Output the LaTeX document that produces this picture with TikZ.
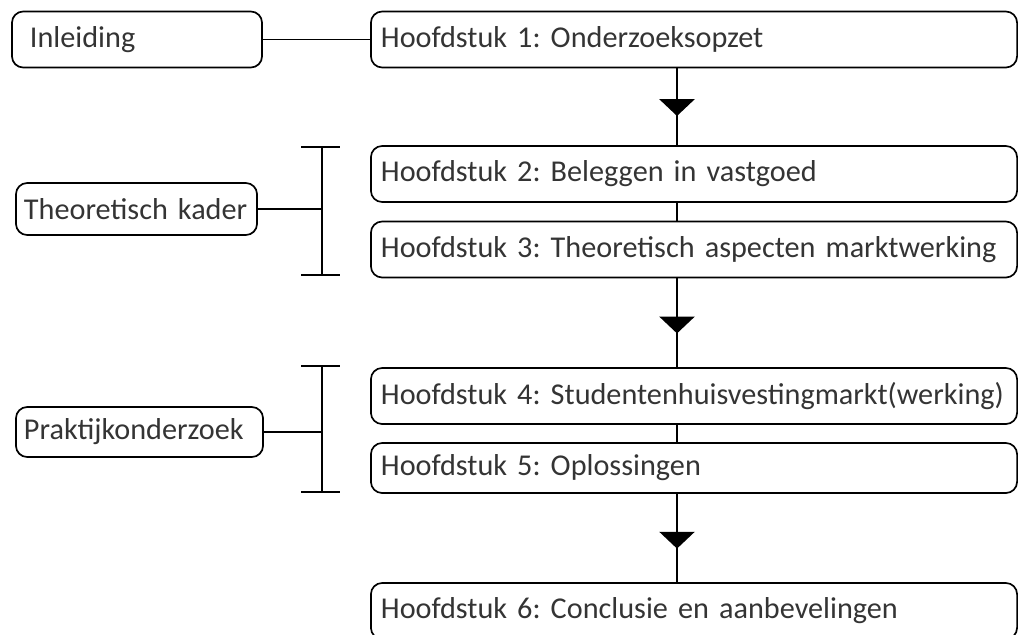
\documentclass[tikz,border=0pt]{standalone}
\usepackage{fontspec}
\setmainfont{Carlito}[WordSpace=0.85]
\usepackage{xcolor}
\usetikzlibrary{arrows.meta,calc,positioning,decorations.markings}
\definecolor{hstext}{RGB}{52,52,52}
\newcommand{\boxfont}{\fontsize{21.5}{24}\selectfont\hyphenpenalty=10000\relax}
\frenchspacing

\begin{document}
\begin{tikzpicture}[x=0.025cm, y=-0.025cm, line cap=butt, line join=round,
    box/.style={draw=black, line width=1.2pt, rounded corners=0.28cm,
      inner xsep=0.25cm, inner ysep=0pt, align=left, text=hstext,
      font=\boxfont},
    chapter/.style={box, text width=15.65cm, minimum height=1.4cm},
    part/.style={box, inner xsep=0.2cm},
    link/.style={line width=1.2pt},
    flow/.style={link, postaction={decorate}, decoration={markings,
      mark=at position 0.62 with {\arrow{Triangle[length=0.42cm,width=0.88cm]}}}}]
  \useasboundingbox (0,0) rectangle (1019,634); % page as the reference

  % left column: parts
  \node[part, inner xsep=0.45cm, text width=5.35cm, minimum height=1.4cm] (inl) at (137,39.5) {Inleiding};
  \node[part, text width=5.625cm, minimum height=1.3cm]  (theo) at (136.5,209) {Theoretisch kader};
  \node[part, text width=5.775cm, minimum height=1.25cm] (prak) at (139.5,432) {Praktijkonderzoek};

  % right column: chapters
  \node[chapter] (h1) at (694,39.5)  {Hoofdstuk 1: Onderzoeksopzet};
  \node[chapter] (h2) at (694,174)   {Hoofdstuk 2: Beleggen in vastgoed};
  \node[chapter] (h3) at (694,249.5) {Hoofdstuk 3: Theoretisch aspecten marktwerking};
  \node[chapter] (h4) at (694,396)   {Hoofdstuk 4: Studentenhuisvestingmarkt(werking)};
  \node[chapter, minimum height=1.25cm] (h5) at (694,468) {Hoofdstuk 5: Oplossingen};
  \node[chapter] (h6) at (694,611)   {Hoofdstuk 6: Conclusie en aanbevelingen};

  \coordinate (spine) at (677,0);
  \coordinate (brA) at (322,147);
  \coordinate (brB) at (322,275);
  \coordinate (brC) at (322,366);
  \coordinate (brD) at (322,492);

  \draw[link] (inl) -- (h1);

  \draw[flow] (h1.south -| spine) -- (h2.north -| spine);
  \draw[link] (h2.south -| spine) -- (h3.north -| spine);
  \draw[flow] (h3.south -| spine) -- (h4.north -| spine);
  \draw[link] (h4.south -| spine) -- (h5.north -| spine);
  \draw[flow] (h5.south -| spine) -- (h6.north -| spine);

  % brackets
  \draw[link] (brA) -- (brB);
  \draw[link] ($(brA)+(-21,0)$) -- ($(brA)+(18,0)$);
  \draw[link] ($(brB)+(-21,0)$) -- ($(brB)+(18,0)$);
  \draw[link] (theo) -- (theo -| brA);

  \draw[link] (brC) -- (brD);
  \draw[link] ($(brC)+(-21,0)$) -- ($(brC)+(18,0)$);
  \draw[link] ($(brD)+(-21,0)$) -- ($(brD)+(18,0)$);
  \draw[link] (prak) -- (prak -| brC);

\end{tikzpicture}
\end{document}
